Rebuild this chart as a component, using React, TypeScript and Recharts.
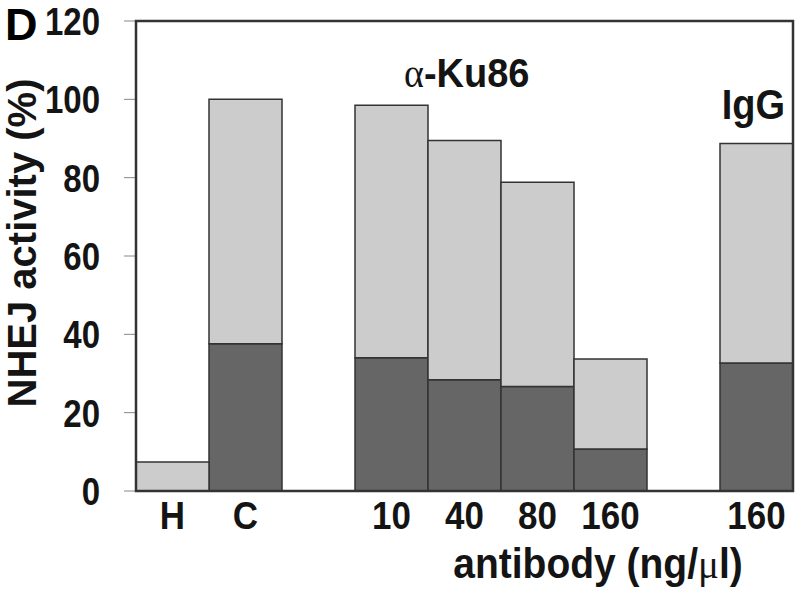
import { BarChart, Bar, XAxis, YAxis } from 'recharts';

const categories = ['H', 'C', '', '10', '40', '80', '160', '', '160'];
// dark lower part of each bar
const darkValues = [0, 37.6, null, 34.0, 28.4, 26.7, 10.7, null, 32.7];
// total bar height (top of light part)
const totalValues = [7.4, 100, null, 98.5, 89.5, 78.8, 33.7, null, 88.7];
const yTicks = [0, 20, 40, 60, 80, 100, 120];

const chartData = categories.map((name, i) => ({
  name,
  dark: darkValues[i],
  light: totalValues[i] == null ? null : (totalValues[i] as number) - ((darkValues[i] as number) || 0),
}));

const FONT = '"Liberation Sans", Arial, sans-serif';
const SERIF = '"Liberation Serif", "DejaVu Serif", serif';
const TEXT = '#141414';

const W = 800;
const H = 592;
const MARGIN = { top: 21, right: 7, bottom: 0, left: 0 };
const Y_AXIS_W = 136;
const X_AXIS_H = 101;
// plot box, from the layout numbers above
const plotLeft = MARGIN.left + Y_AXIS_W;
const plotTop = MARGIN.top;
const plotW = W - MARGIN.right - plotLeft;
const plotH = H - MARGIN.bottom - X_AXIS_H - plotTop;

// the figure's lettering is a bit taller than plain Arial, so stretch it slightly
const YTick = ({ x, y, payload }: any) => (
  <g transform={`translate(${x},${y}) scale(1,1.17)`}>
    <text textAnchor="end" dy="0.36em" fill={TEXT} fontSize={33} fontWeight={700} fontFamily={FONT}>
      {payload.value}
    </text>
  </g>
);

const XTick = ({ x, y, payload }: any) => (
  <g transform={`translate(${x},${y}) scale(1,1.12)`}>
    <text textAnchor="middle" dy="0.71em" fill={TEXT} fontSize={35} fontWeight={700} fontFamily={FONT}>
      {payload.value}
    </text>
  </g>
);

export default function App() {
  return (
    <div style={{ position: 'absolute', left: 0, top: 0, width: W, height: H, background: '#fff' }}>
      <BarChart width={W} height={H} data={chartData} margin={MARGIN} barCategoryGap={0} style={{ fontFamily: FONT }}>
        <XAxis
          dataKey="name"
          height={X_AXIS_H}
          tickLine={false}
          axisLine={{ stroke: '#333', strokeWidth: 2 }}
          tickMargin={4}
          interval={0}
          tick={<XTick />}
          label={{
            content: () => (
              <g transform="translate(598,578) scale(1,1.1)">
                <text x={0} y={0} textAnchor="middle" fill={TEXT} fontSize={39} fontWeight={700} fontFamily={FONT}>
                  antibody (ng/
                  <tspan fontFamily={SERIF} fontWeight={400}>μ</tspan>
                  l)
                </text>
              </g>
            ),
          }}
        />
        <YAxis
          domain={[0, 120]}
          ticks={yTicks}
          width={Y_AXIS_W}
          tickSize={12}
          tickMargin={24}
          tickLine={{ stroke: '#888' }}
          axisLine={{ stroke: '#333', strokeWidth: 2 }}
          tick={<YTick />}
          label={{
            content: () => (
              <text
                x={36}
                y={243}
                transform="rotate(-90, 36, 243)"
                textAnchor="middle"
                fill={TEXT}
                fontSize={40}
                fontWeight={700}
                fontFamily={FONT}
              >
                NHEJ activity (%)
              </text>
            ),
          }}
        />
        <Bar dataKey="dark" stackId="a" fill="#666666" stroke="#333" strokeWidth={1.5} isAnimationActive={false} />
        <Bar dataKey="light" stackId="a" fill="#cccccc" stroke="#333" strokeWidth={1.5} isAnimationActive={false} />
      </BarChart>
      <svg width={W} height={H} style={{ position: 'absolute', left: 0, top: 0, pointerEvents: 'none' }}>
        {/* box around the plot area */}
        <rect x={plotLeft} y={plotTop} width={plotW} height={plotH} fill="none" stroke="#333" strokeWidth={2.5} />
        <text x={5} y={40} fill="#000" fontSize={45} fontWeight={700} fontFamily={FONT}>D</text>
        <g transform="translate(404,87) scale(1,1.08)">
          <text x={0} y={0} fill={TEXT} fontSize={38} fontWeight={700} fontFamily={FONT}>
            <tspan fontFamily={SERIF} fontWeight={400}>α</tspan>-Ku86
          </text>
        </g>
        <g transform="translate(785,119) scale(1,1.1)">
          <text x={0} y={0} textAnchor="end" fill={TEXT} fontSize={38} fontWeight={700} fontFamily={FONT}>IgG</text>
        </g>
      </svg>
    </div>
  );
}
